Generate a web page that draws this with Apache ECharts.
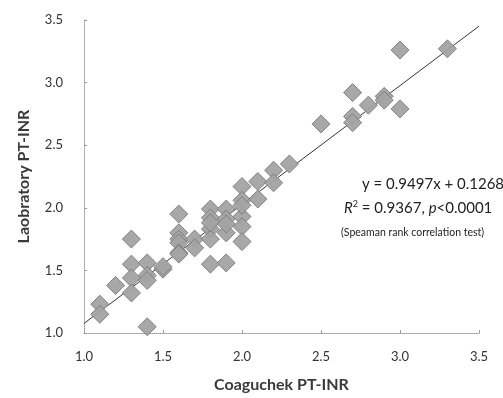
<!DOCTYPE html>
<html>
  <head>
    <meta charset="UTF-8" />
    <title>Coaguchek vs Laboratory PT-INR</title>
    <script src="https://cdn.jsdelivr.net/npm/echarts@6/dist/echarts.min.js"></script>
  </head>
  <body style="margin: 0">
    <div id="chart" style="width: 503px; height: 398px"></div>
    <script>
      // Coaguchek PT-INR (x) vs laboratory PT-INR (y)
      var coaguchek = [
        1.1, 1.1, 1.2, 1.3, 1.3, 1.3, 1.3, 1.4, 1.4, 1.4, 1.4, 1.5, 1.5,
        1.6, 1.6, 1.6, 1.6, 1.6, 1.6, 1.7, 1.7, 1.8, 1.8, 1.8, 1.8, 1.8,
        1.8, 1.9, 1.9, 1.9, 1.9, 1.9, 2.0, 2.0, 2.0, 2.0, 2.0, 2.0, 2.1,
        2.1, 2.2, 2.2, 2.3, 2.5, 2.7, 2.7, 2.7, 2.8, 2.9, 2.9, 3.0, 3.0,
        3.3
      ];
      var laboratory = [
        1.23, 1.15, 1.38, 1.75, 1.55, 1.44, 1.32, 1.56, 1.46, 1.42, 1.05,
        1.51, 1.53, 1.95, 1.80, 1.75, 1.72, 1.64, 1.63, 1.75, 1.68, 1.99,
        1.92, 1.83, 1.75, 1.55, 1.88, 1.99, 1.91, 1.80, 1.56, 1.87, 2.17,
        2.06, 1.93, 1.85, 1.73, 2.02, 2.21, 2.07, 2.30, 2.20, 2.35, 2.67,
        2.92, 2.73, 2.68, 2.82, 2.89, 2.86, 3.26, 2.79, 3.27
      ];
      var slope = 0.9497;
      var intercept = 0.1268;
      var lineX = [1.0, 3.5];
      var axisTicks = [1.0, 3.5, 0.5]; // min, max, interval

      var points = coaguchek.map(function (x, i) {
        return [x, laboratory[i]];
      });
      var fitLine = lineX.map(function (x) {
        return [x, slope * x + intercept];
      });

      var font = "Lato";
      var axisBase = {
        type: "value",
        min: axisTicks[0],
        max: axisTicks[1],
        interval: axisTicks[2],
        splitLine: { show: false },
        axisLine: {
          show: true,
          lineStyle: { color: "#9a9a9a", type: "dotted", width: 1 },
        },
        axisTick: {
          show: true,
          length: 3,
          inside: true,
          lineStyle: { color: "#9a9a9a" },
        },
        nameLocation: "middle",
        nameTextStyle: {
          fontFamily: font,
          fontWeight: "bold",
          fontSize: 16,
          color: "#3a3a3a",
        },
      };
      var tickLabel = function (margin) {
        return {
          margin: margin,
          fontFamily: font,
          fontSize: 13,
          color: "#333",
          formatter: function (v) {
            return v.toFixed(1);
          },
        };
      };

      var chart = echarts.init(document.getElementById("chart"));
      chart.setOption({
        backgroundColor: "#ffffff",
        animation: false,
        grid: { left: 84, right: 24, top: 20, bottom: 65 },
        xAxis: Object.assign({}, axisBase, {
          name: "Coaguchek PT-INR",
          nameGap: 44,
          axisLabel: tickLabel(17),
        }),
        yAxis: Object.assign({}, axisBase, {
          name: "Laobratory PT-INR",
          nameGap: 52,
          axisLabel: tickLabel(21),
        }),
        series: [
          {
            type: "line",
            data: fitLine,
            symbol: "none",
            z: 1,
            lineStyle: { color: "#333", width: 1 },
          },
          {
            type: "scatter",
            data: points,
            symbol: "diamond",
            symbolSize: [18, 18],
            z: 2,
            itemStyle: {
              color: "#a3a3a3",
              borderColor: "#7d7d7d",
              borderWidth: 1,
              opacity: 0.95,
            },
          },
        ],
        graphic: [
          {
            type: "text",
            left: 362,
            top: 177,
            style: {
              text: "y = 0.9497x + 0.1268",
              font: "15px Lato",
              fill: "#222",
            },
          },
          {
            type: "text",
            left: 344,
            top: 200,
            style: {
              text: "{i|R}{s|2} = 0.9367, {i|p}<0.0001",
              font: "15px Lato",
              fill: "#222",
              rich: {
                i: { fontStyle: "italic", fontFamily: font, fontSize: 15, fill: "#222" },
                s: { fontSize: 9, fontFamily: font, verticalAlign: "top", padding: [0, 0, 7, 0], fill: "#222" },
              },
            },
          },
          {
            type: "text",
            left: 341,
            top: 227,
            style: {
              text: "(Speaman rank correlation test)",
              font: "10.5px Lato",
              fill: "#222",
            },
          },
        ],
      });
    </script>
  </body>
</html>
